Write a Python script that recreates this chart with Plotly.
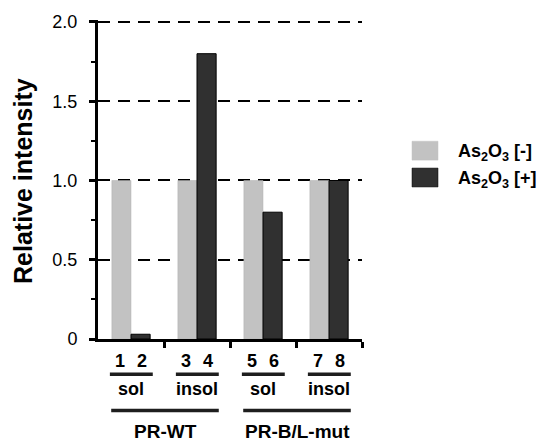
import plotly.graph_objects as go

groups = [0, 1, 2, 3]
lanes_minus = ["1", "3", "5", "7"]
lanes_plus = ["2", "4", "6", "8"]
fraction_labels = ["sol", "insol", "sol", "insol"]
construct_labels = ["PR-WT", "PR-B/L-mut"]
series_names = ["As<sub>2</sub>O<sub>3</sub> [-]", "As<sub>2</sub>O<sub>3</sub> [+]"]
values_minus = [1.0, 1.0, 1.0, 1.0]
values_plus = [0.03, 1.8, 0.8, 1.0]
y_tickvals = [0, 0.5, 1.0, 1.5, 2.0]
y_ticktext = ["0", "0.5", "1.0", "1.5", "2.0"]
y_title = "Relative intensity"

light = "#c2c2c2"
dark = "#303030"
FONT = "Liberation Sans, Arial, Helvetica, sans-serif"

L, R, T, B = 98, 180, 18, 102
W, H = 542, 441
PW = W - L - R
PH = H - T - B
Y0 = H - B  # pixel row of y=0


def py(pix):  # pixel row -> paper y
    return (Y0 - pix) / PH


def px(pix):  # pixel column -> paper x
    return (pix - L) / PW


fig = go.Figure()
fig.add_trace(go.Bar(x=groups, y=values_minus, name=series_names[0],
                     marker=dict(color=light, line=dict(color="#b0b0b0", width=0.5))))
fig.add_trace(go.Bar(x=groups, y=values_plus, name=series_names[1],
                     marker=dict(color=dark, line=dict(color="black", width=1))))

annotations = []
shapes = []
lab_font = dict(size=18, family=FONT, color="black")
for g, a, b, f in zip(groups, lanes_minus, lanes_plus, fraction_labels):
    annotations.append(dict(x=g - 0.16, y=py(361), xref="x", yref="paper", text=f"<b>{a}</b>",
                            showarrow=False, font=lab_font, yanchor="middle"))
    annotations.append(dict(x=g + 0.16, y=py(361), xref="x", yref="paper", text=f"<b>{b}</b>",
                            showarrow=False, font=lab_font, yanchor="middle"))
    shapes.append(dict(type="line", xref="x", yref="paper", x0=g - 0.32, x1=g + 0.33,
                       y0=py(374.5), y1=py(374.5), line=dict(color="#1e1e1e", width=3.5)))
    annotations.append(dict(x=g, y=py(389), xref="x", yref="paper", text=f"<b>{f}</b>",
                            showarrow=False, font=lab_font, yanchor="middle"))
for i, c in enumerate(construct_labels):
    g0, g1 = groups[2 * i], groups[2 * i + 1]
    shapes.append(dict(type="line", xref="x", yref="paper", x0=g0 - 0.30, x1=g1 + 0.33,
                       y0=py(411), y1=py(411), line=dict(color="#1e1e1e", width=3.5)))
    annotations.append(dict(x=(g0 + g1) / 2 + 0.03, y=py(432.5), xref="x", yref="paper",
                            text=f"<b>{c}</b>", showarrow=False,
                            font=dict(size=19, family=FONT, color="black"), yanchor="middle"))

# y-axis title (as rotated annotation so it can sit where the reference has it)
annotations.append(dict(x=px(23), y=py(180), xref="paper", yref="paper",
                        text=f"<b>{y_title}</b>", textangle=-90, showarrow=False,
                        xanchor="center", yanchor="middle",
                        font=dict(size=25, family=FONT, color="black")))

# manual legend (swatches + text)
leg_colors = [light, dark]
leg_tops = [140, 167]
for name, col, top in zip(series_names, leg_colors, leg_tops):
    shapes.append(dict(type="rect", xref="paper", yref="paper",
                       x0=px(412), x1=px(438), y0=py(top + 19), y1=py(top),
                       fillcolor=col, line=dict(color=col if col == light else "black", width=0.5)))
    annotations.append(dict(x=px(456), y=py(top + 11), xref="paper", yref="paper",
                            text=f"<b>{name}</b>", showarrow=False, xanchor="left", yanchor="middle",
                            font=dict(size=18, family=FONT, color="black")))

fig.update_layout(
    width=W, height=H,
    margin=dict(l=L, r=R, t=T, b=B),
    paper_bgcolor="white", plot_bgcolor="white",
    barmode="group", bargap=0.42, bargroupgap=0,
    showlegend=False,
    font=dict(family=FONT, color="black"),
    annotations=annotations, shapes=shapes,
    xaxis=dict(range=[-0.5, 3.5], showgrid=False, zeroline=False,
               showline=True, linecolor="black", linewidth=2.5,
               tickmode="array", tickvals=[0.5, 1.5, 2.5, 3.5], showticklabels=False,
               ticks="outside", ticklen=6, tickwidth=3, tickcolor="black"),
    yaxis=dict(range=[0, 2.0 * PH / 319], showgrid=True, gridcolor="black", gridwidth=1.5,
               griddash="12px,8px", zeroline=False,
               showline=True, linecolor="black", linewidth=3,
               tickmode="array", tickvals=y_tickvals, ticktext=y_ticktext,
               ticks="outside", ticklen=6, tickwidth=2.5, tickcolor="black",
               minor=dict(ticks="outside", tickvals=[0.25, 0.75, 1.25, 1.75], ticklen=4, tickwidth=2,
                          tickcolor="black", showgrid=False),
               tickfont=dict(size=18, family=FONT), ticklabelstandoff=8),
)

fig.write_html("out.html", config={"displayModeBar": False},
               post_script="document.body.style.margin='0';document.body.style.overflow='hidden';")
